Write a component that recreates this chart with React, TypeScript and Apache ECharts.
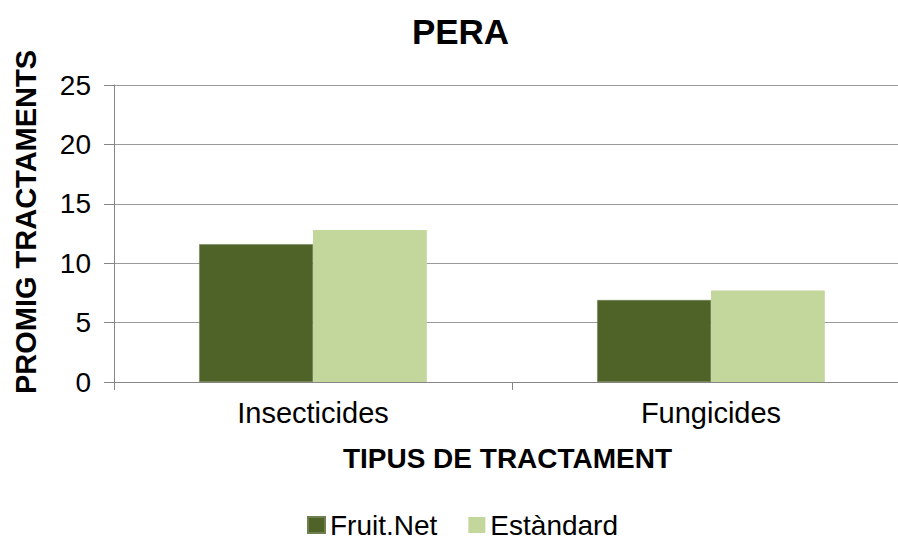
import React, { useEffect, useRef } from "react";
import * as echarts from "echarts";

const categories = ["Insecticides", "Fungicides"];
const fruitNet = [11.6, 6.9];
const estandard = [12.8, 7.7];
const seriesNames = ["Fruit.Net", "Estàndard"];
const chartTitle = "PERA";
const xTitle = "TIPUS DE TRACTAMENT";
const yTitle = "PROMIG TRACTAMENTS";

const FONT = "'Liberation Sans', Arial, sans-serif";

export default function App() {
  const ref = useRef<HTMLDivElement>(null);
  useEffect(() => {
    if (!ref.current) return;
    const chart = echarts.init(ref.current, undefined, { renderer: "svg" });
    chart.setOption({
      animation: false,
      backgroundColor: "#ffffff",
      textStyle: { fontFamily: FONT },
      grid: { left: 114, right: 0, top: 85, bottom: 159, containLabel: false },
      legend: {
        data: seriesNames,
        left: 307,
        top: 511,
        padding: 0,
        itemWidth: 17,
        itemHeight: 16,
        itemGap: 31,
        icon: "rect",
        textStyle: { fontSize: 28, lineHeight: 26, color: "#000", fontFamily: FONT },
      },
      xAxis: {
        type: "category",
        data: categories,
        axisLine: { show: true, lineStyle: { color: "#868686", width: 1 } },
        axisTick: { show: true, length: 8, lineStyle: { color: "#868686" } },
        axisLabel: { fontSize: 29, color: "#000", margin: 16, fontFamily: FONT },
        splitLine: { show: false },
      },
      yAxis: {
        type: "value",
        min: 0,
        max: 25,
        interval: 5,
        axisLine: { show: true, lineStyle: { color: "#868686", width: 1 } },
        axisTick: { show: true, length: 10, lineStyle: { color: "#868686" } },
        axisLabel: { fontSize: 28, color: "#000", margin: 23, fontFamily: FONT },
        splitLine: { show: true, lineStyle: { color: "#9a9a9a", width: 1 } },
      },
      series: [
        {
          name: seriesNames[0],
          type: "bar",
          data: fruitNet,
          barGap: "0%",
          barCategoryGap: "42.8%",
          itemStyle: { color: "#4f6228", borderColor: "#6f7f50", borderWidth: 0.5 },
        },
        {
          name: seriesNames[1],
          type: "bar",
          data: estandard,
          itemStyle: { color: "#c3d69b" },
        },
      ],
      graphic: [
        {
          type: "text",
          x: 460.5,
          y: 31,
          style: {
            text: chartTitle,
            fontSize: 35,
            fontWeight: "bold",
            fontFamily: FONT,
            fill: "#000",
            textAlign: "center",
            textVerticalAlign: "middle",
          },
        },
        {
          type: "text",
          x: 507.5,
          y: 458,
          style: {
            text: xTitle,
            fontSize: 28,
            fontWeight: "bold",
            fontFamily: FONT,
            fill: "#000",
            textAlign: "center",
            textVerticalAlign: "middle",
          },
        },
        {
          type: "text",
          x: 25.5,
          y: 222,
          rotation: Math.PI / 2,
          style: {
            text: yTitle,
            fontSize: 29,
            fontWeight: "bold",
            fontFamily: FONT,
            fill: "#000",
            textAlign: "center",
            textVerticalAlign: "middle",
          },
        },
      ],
    });
    return () => chart.dispose();
  }, []);
  return (
    <div style={{ width: 898, height: 541, position: "absolute", left: 0, top: 0, overflow: "hidden" }}>
      <div ref={ref} style={{ width: 910, height: 541 }} />
    </div>
  );
}
